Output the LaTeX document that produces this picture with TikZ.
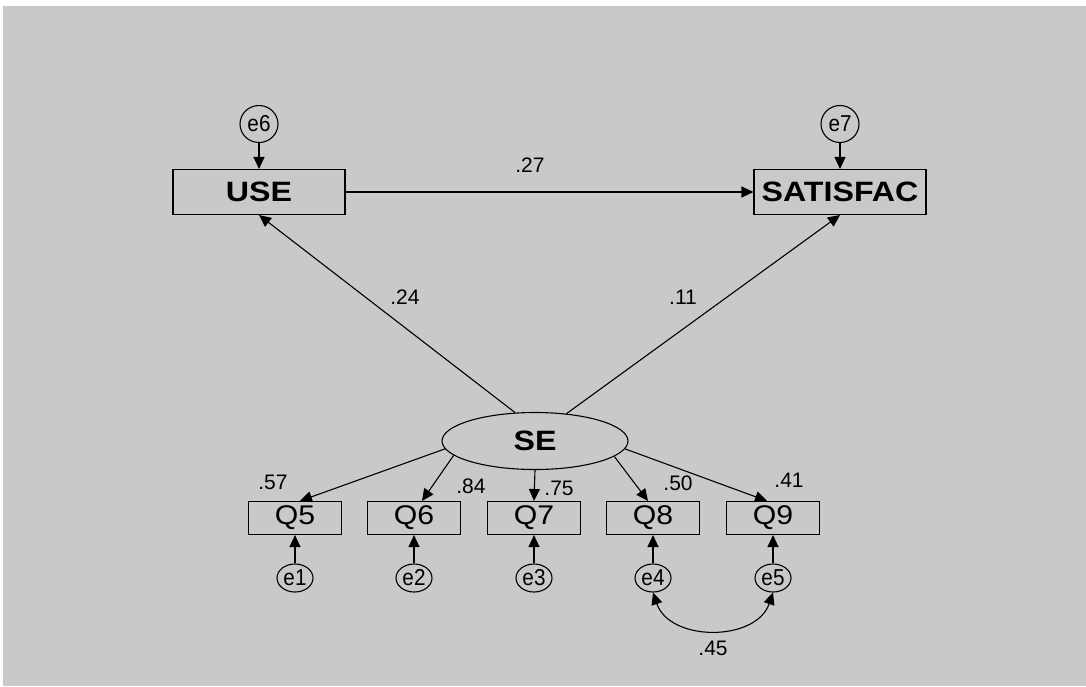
\documentclass[tikz,border=0pt]{standalone}
\usepackage{fontspec}
\setmainfont{Liberation Sans}
\usetikzlibrary{arrows.meta,shapes.geometric}
\definecolor{bggray}{HTML}{C9C9C9}
\begin{document}
\begin{tikzpicture}[x=1pt,y=-1pt,
  line width=1.1pt,
  obs/.style={draw, rectangle, inner sep=0pt},
  bigbox/.style={obs, minimum width=172pt, minimum height=45pt, font=\fontsize{28}{30}\selectfont\bfseries},
  qbox/.style={obs, minimum width=93pt, minimum height=33pt, font=\fontsize{27}{29}\selectfont},
  errc/.style={draw, ellipse, inner sep=0pt, minimum width=36pt, minimum height=28pt, font=\fontsize{23}{25}\selectfont},
  errbig/.style={errc, minimum width=38pt, minimum height=37pt},
  lat/.style={draw, ellipse, inner sep=0pt, minimum width=186pt, minimum height=57pt, font=\fontsize{28}{30}\selectfont\bfseries},
  lab/.style={font=\fontsize{21}{23}\selectfont, inner sep=0pt},
  arr/.style={-{Triangle[length=12pt,width=11pt]}},
  darr/.style={{Triangle[length=12pt,width=11pt]}-{Triangle[length=12pt,width=11pt]}}
]
\useasboundingbox (0,0) rectangle (1086,686);
\fill[white] (0,0) rectangle (1086,686);
\fill[bggray] (3,6) rectangle (1086,686);

% nodes
\node[bigbox] (use) at (259,192) {\scalebox{1.15}[1]{USE}};
\node[bigbox] (sat) at (840,192) {\scalebox{1.15}[1]{SATISFAC}};
\node[errbig] (e6) at (259,124) {\scalebox{0.9}[1]{e6}};
\node[errbig] (e7) at (840,124) {\scalebox{0.9}[1]{e7}};
\node[lat] (se) at (535,441) {\scalebox{1.15}[1]{SE}};

\node[qbox] (q5) at (295,518) {\scalebox{1.12}[1]{Q5}};
\node[qbox] (q6) at (414,518) {\scalebox{1.12}[1]{Q6}};
\node[qbox] (q7) at (534,518) {\scalebox{1.12}[1]{Q7}};
\node[qbox] (q8) at (653,518) {\scalebox{1.12}[1]{Q8}};
\node[qbox] (q9) at (773,518) {\scalebox{1.12}[1]{Q9}};

\node[errc] (e1) at (295,578) {\scalebox{0.9}[1]{e1}};
\node[errc] (e2) at (414,578) {\scalebox{0.9}[1]{e2}};
\node[errc] (e3) at (534,578) {\scalebox{0.9}[1]{e3}};
\node[errc] (e4) at (653,578) {\scalebox{0.9}[1]{e4}};
\node[errc] (e5) at (773,578) {\scalebox{0.9}[1]{e5}};

% connectors
\draw[arr] (e6) -- (use);
\draw[arr] (e7) -- (sat);
\draw[arr] (use) -- (sat);
\draw[arr] (se.125) -- (use.south);
\draw[arr] (se.41) -- (sat.south);

\draw[arr] (se.185) -- ([xshift=5pt]q5.north);
\draw[arr] (se.190) -- ([xshift=8pt]q6.north);
\draw[arr] (se.south) -- (q7.north);
\draw[arr] (se.349) -- ([xshift=-5pt]q8.north);
\draw[arr] (se.355) -- ([xshift=-6pt]q9.north);

\draw[arr] (e1) -- (q5);
\draw[arr] (e2) -- (q6);
\draw[arr] (e3) -- (q7);
\draw[arr] (e4) -- (q8);
\draw[arr] (e5) -- (q9);

\draw[darr] (e4.south) .. controls (670,642) and (756,642) .. (e5.south);

% labels
\node[lab] (l27) at (530,165) {.27};
\node[lab] (l24) at (405,297) {.24};
\node[lab] (l11) at (683,297) {.11};
\node[lab] (l57) at (273,482) {.57};
\node[lab] (l84) at (471,486) {.84};
\node[lab] (l75) at (559,488) {.75};
\node[lab] (l50) at (678,483) {.50};
\node[lab] (l41) at (789,480) {.41};
\node[lab] (l45) at (713,648) {.45};
\end{tikzpicture}
\end{document}
